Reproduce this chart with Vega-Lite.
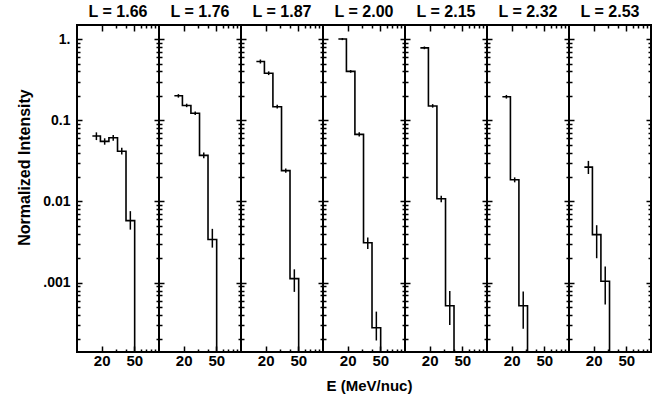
{
  "$schema": "https://vega.github.io/schema/vega-lite/v6.json",
  "padding": {"left": 15, "top": 3, "right": 5, "bottom": 5},
  "background": "white",
  "spacing": 0,
  "bounds": "flush",
  "data": {"values": [
    {"L": "1.66", "lo": 15.4, "hi": 19.3, "E": 17.24, "v": 0.064, "elo": 0.057, "ehi": 0.071},
    {"L": "1.66", "lo": 19.3, "hi": 24.5, "E": 21.75, "v": 0.055, "elo": 0.05, "ehi": 0.06},
    {"L": "1.66", "lo": 24.5, "hi": 31.2, "E": 27.65, "v": 0.061, "elo": 0.056, "ehi": 0.066},
    {"L": "1.66", "lo": 31.2, "hi": 39.6, "E": 35.15, "v": 0.0415, "elo": 0.038, "ehi": 0.046},
    {"L": "1.66", "lo": 39.6, "hi": 50.5, "E": 44.72, "v": 0.0058, "elo": 0.0045, "ehi": 0.0076},
    {"L": "1.66", "lo": 50.5, "hi": 64, "v": 0.000001},
    {"L": "1.76", "lo": 15.4, "hi": 19.3, "E": 17.24, "v": 0.2, "elo": 0.19, "ehi": 0.21},
    {"L": "1.76", "lo": 19.3, "hi": 24.5, "E": 21.75, "v": 0.152, "elo": 0.145, "ehi": 0.16},
    {"L": "1.76", "lo": 24.5, "hi": 31.2, "E": 27.65, "v": 0.122, "elo": 0.116, "ehi": 0.128},
    {"L": "1.76", "lo": 31.2, "hi": 39.6, "E": 35.15, "v": 0.037, "elo": 0.034, "ehi": 0.04},
    {"L": "1.76", "lo": 39.6, "hi": 50.5, "E": 44.72, "v": 0.0034, "elo": 0.0027, "ehi": 0.0046},
    {"L": "1.76", "lo": 50.5, "hi": 64, "v": 0.000001},
    {"L": "1.87", "lo": 15.4, "hi": 19.3, "E": 17.24, "v": 0.53, "elo": 0.5, "ehi": 0.56},
    {"L": "1.87", "lo": 19.3, "hi": 24.5, "E": 21.75, "v": 0.38, "elo": 0.36, "ehi": 0.4},
    {"L": "1.87", "lo": 24.5, "hi": 31.2, "E": 27.65, "v": 0.147, "elo": 0.14, "ehi": 0.155},
    {"L": "1.87", "lo": 31.2, "hi": 39.6, "E": 35.15, "v": 0.024, "elo": 0.0225, "ehi": 0.0255},
    {"L": "1.87", "lo": 39.6, "hi": 50.5, "E": 44.72, "v": 0.00112, "elo": 0.00077, "ehi": 0.00146},
    {"L": "1.87", "lo": 50.5, "hi": 64, "v": 0.000001},
    {"L": "2.00", "lo": 15.4, "hi": 19.3, "E": 17.24, "v": 1.0, "elo": 0.97, "ehi": 1.03},
    {"L": "2.00", "lo": 19.3, "hi": 24.5, "E": 21.75, "v": 0.4, "elo": 0.385, "ehi": 0.415},
    {"L": "2.00", "lo": 24.5, "hi": 31.2, "E": 27.65, "v": 0.067, "elo": 0.063, "ehi": 0.071},
    {"L": "2.00", "lo": 31.2, "hi": 39.6, "E": 35.15, "v": 0.0031, "elo": 0.0026, "ehi": 0.0036},
    {"L": "2.00", "lo": 39.6, "hi": 50.5, "E": 44.72, "v": 0.000278, "elo": 0.000194, "ehi": 0.00044},
    {"L": "2.00", "lo": 50.5, "hi": 64, "v": 0.000001},
    {"L": "2.15", "lo": 15.4, "hi": 19.3, "E": 17.24, "v": 0.78, "elo": 0.75, "ehi": 0.81},
    {"L": "2.15", "lo": 19.3, "hi": 24.5, "E": 21.75, "v": 0.15, "elo": 0.143, "ehi": 0.158},
    {"L": "2.15", "lo": 24.5, "hi": 31.2, "E": 27.65, "v": 0.0108, "elo": 0.0098, "ehi": 0.0118},
    {"L": "2.15", "lo": 31.2, "hi": 39.6, "E": 35.15, "v": 0.00052, "elo": 0.0003, "ehi": 0.00079},
    {"L": "2.15", "lo": 39.6, "hi": 50.5, "v": 0.000001},
    {"L": "2.32", "lo": 15.4, "hi": 19.3, "E": 17.24, "v": 0.195, "elo": 0.185, "ehi": 0.205},
    {"L": "2.32", "lo": 19.3, "hi": 24.5, "E": 21.75, "v": 0.0185, "elo": 0.0172, "ehi": 0.0198},
    {"L": "2.32", "lo": 24.5, "hi": 31.2, "E": 27.65, "v": 0.00052, "elo": 0.00027, "ehi": 0.00078},
    {"L": "2.32", "lo": 31.2, "hi": 39.6, "v": 0.000001},
    {"L": "2.53", "lo": 15.4, "hi": 19.3, "E": 17.24, "v": 0.0265, "elo": 0.0218, "ehi": 0.0316},
    {"L": "2.53", "lo": 19.3, "hi": 24.5, "E": 21.75, "v": 0.0039, "elo": 0.002, "ehi": 0.0051},
    {"L": "2.53", "lo": 24.5, "hi": 31.2, "E": 27.65, "v": 0.00104, "elo": 0.00054, "ehi": 0.00158},
    {"L": "2.53", "lo": 31.2, "hi": 39.6, "v": 0.000001}
  ]},
  "hconcat": [
    {
      "width": 82, "height": 327,
      "title": {"text": "L = 1.66"},
      "transform": [{"filter": "datum.L == '1.66'"}],
      "layer": [
        {
          "transform": [{"fold": ["lo", "hi"], "as": ["edge", "Eedge"]}],
          "mark": {"type": "line", "color": "black", "strokeWidth": 1.6, "clip": true},
          "encoding": {
            "x": {"field": "Eedge", "type": "quantitative", "scale": {"type": "log", "domain": [10, 100]},
                  "axis": {"orient": "bottom", "title": null, "values": [20, 30, 40, 50, 60, 70, 80, 90], "tickSize": {"condition": {"test": "datum.value == 20 || datum.value == 50", "value": -6}, "value": -3}, "labelExpr": "datum.value == 20 ? '20' : datum.value == 50 ? '50' : ''", "labelPadding": 7}},
            "y": {"field": "v", "type": "quantitative", "scale": {"type": "log", "domain": [0.00014, 1.49]},
                  "axis": {"orient": "left", "title": "Normalized Intensity", "titlePadding": 10, "titleY": 142, "values": [0.0002, 0.0003, 0.0004, 0.0005, 0.0006, 0.0007, 0.0008, 0.0009, 0.001, 0.002, 0.003, 0.004, 0.005, 0.006, 0.007, 0.008, 0.009, 0.01, 0.02, 0.03, 0.04, 0.05, 0.06, 0.07, 0.08, 0.09, 0.1, 0.2, 0.3, 0.4, 0.5, 0.6, 0.7, 0.8, 0.9, 1], "tickSize": {"condition": {"test": "datum.value == 1 || datum.value == 0.1 || datum.value == 0.01 || datum.value == 0.001", "value": -5}, "value": -3}, "labelExpr": "datum.value == 1 ? '1.' : datum.value == 0.1 ? '0.1' : datum.value == 0.01 ? '0.01' : datum.value == 0.001 ? '.001' : ''", "labelPadding": 12}},
            "order": [{"field": "Eedge", "type": "quantitative"}, {"field": "edge", "type": "nominal"}]
          }
        },
        {
          "mark": {"type": "rule", "color": "black", "strokeWidth": 1.5},
          "encoding": {
            "x": {"field": "E", "type": "quantitative", "scale": {"type": "log", "domain": [10, 100]},
                  "axis": {"orient": "top", "title": null, "labels": false, "values": [20, 30, 40, 50, 60, 70, 80, 90], "tickSize": {"condition": {"test": "datum.value == 20 || datum.value == 50", "value": -6}, "value": -3}}},
            "y": {"field": "elo", "type": "quantitative", "scale": {"type": "log", "domain": [0.00014, 1.49]},
                  "axis": {"orient": "right", "title": null, "labels": false, "values": [0.0002, 0.0003, 0.0004, 0.0005, 0.0006, 0.0007, 0.0008, 0.0009, 0.001, 0.002, 0.003, 0.004, 0.005, 0.006, 0.007, 0.008, 0.009, 0.01, 0.02, 0.03, 0.04, 0.05, 0.06, 0.07, 0.08, 0.09, 0.1, 0.2, 0.3, 0.4, 0.5, 0.6, 0.7, 0.8, 0.9, 1], "tickSize": {"condition": {"test": "datum.value == 1 || datum.value == 0.1 || datum.value == 0.01 || datum.value == 0.001", "value": -5}, "value": -3}}},
            "y2": {"field": "ehi"}
          }
        }
      ],
      "resolve": {"axis": {"x": "independent", "y": "independent"}}
    },
    {
      "width": 82, "height": 327,
      "title": {"text": "L = 1.76"},
      "transform": [{"filter": "datum.L == '1.76'"}],
      "layer": [
        {
          "transform": [{"fold": ["lo", "hi"], "as": ["edge", "Eedge"]}],
          "mark": {"type": "line", "color": "black", "strokeWidth": 1.6, "clip": true},
          "encoding": {
            "x": {"field": "Eedge", "type": "quantitative", "scale": {"type": "log", "domain": [10, 100]},
                  "axis": {"orient": "bottom", "title": null, "values": [20, 30, 40, 50, 60, 70, 80, 90], "tickSize": {"condition": {"test": "datum.value == 20 || datum.value == 50", "value": -6}, "value": -3}, "labelExpr": "datum.value == 20 ? '20' : datum.value == 50 ? '50' : ''", "labelPadding": 7}},
            "y": {"field": "v", "type": "quantitative", "scale": {"type": "log", "domain": [0.00014, 1.49]},
                  "axis": {"orient": "left", "title": null, "labels": false, "values": [0.0002, 0.0003, 0.0004, 0.0005, 0.0006, 0.0007, 0.0008, 0.0009, 0.001, 0.002, 0.003, 0.004, 0.005, 0.006, 0.007, 0.008, 0.009, 0.01, 0.02, 0.03, 0.04, 0.05, 0.06, 0.07, 0.08, 0.09, 0.1, 0.2, 0.3, 0.4, 0.5, 0.6, 0.7, 0.8, 0.9, 1], "tickSize": {"condition": {"test": "datum.value == 1 || datum.value == 0.1 || datum.value == 0.01 || datum.value == 0.001", "value": -5}, "value": -3}}},
            "order": [{"field": "Eedge", "type": "quantitative"}, {"field": "edge", "type": "nominal"}]
          }
        },
        {
          "mark": {"type": "rule", "color": "black", "strokeWidth": 1.5},
          "encoding": {
            "x": {"field": "E", "type": "quantitative", "scale": {"type": "log", "domain": [10, 100]},
                  "axis": {"orient": "top", "title": null, "labels": false, "values": [20, 30, 40, 50, 60, 70, 80, 90], "tickSize": {"condition": {"test": "datum.value == 20 || datum.value == 50", "value": -6}, "value": -3}}},
            "y": {"field": "elo", "type": "quantitative", "scale": {"type": "log", "domain": [0.00014, 1.49]},
                  "axis": {"orient": "right", "title": null, "labels": false, "values": [0.0002, 0.0003, 0.0004, 0.0005, 0.0006, 0.0007, 0.0008, 0.0009, 0.001, 0.002, 0.003, 0.004, 0.005, 0.006, 0.007, 0.008, 0.009, 0.01, 0.02, 0.03, 0.04, 0.05, 0.06, 0.07, 0.08, 0.09, 0.1, 0.2, 0.3, 0.4, 0.5, 0.6, 0.7, 0.8, 0.9, 1], "tickSize": {"condition": {"test": "datum.value == 1 || datum.value == 0.1 || datum.value == 0.01 || datum.value == 0.001", "value": -5}, "value": -3}}},
            "y2": {"field": "ehi"}
          }
        }
      ],
      "resolve": {"axis": {"x": "independent", "y": "independent"}}
    },
    {
      "width": 82, "height": 327,
      "title": {"text": "L = 1.87"},
      "transform": [{"filter": "datum.L == '1.87'"}],
      "layer": [
        {
          "transform": [{"fold": ["lo", "hi"], "as": ["edge", "Eedge"]}],
          "mark": {"type": "line", "color": "black", "strokeWidth": 1.6, "clip": true},
          "encoding": {
            "x": {"field": "Eedge", "type": "quantitative", "scale": {"type": "log", "domain": [10, 100]},
                  "axis": {"orient": "bottom", "title": null, "values": [20, 30, 40, 50, 60, 70, 80, 90], "tickSize": {"condition": {"test": "datum.value == 20 || datum.value == 50", "value": -6}, "value": -3}, "labelExpr": "datum.value == 20 ? '20' : datum.value == 50 ? '50' : ''", "labelPadding": 7}},
            "y": {"field": "v", "type": "quantitative", "scale": {"type": "log", "domain": [0.00014, 1.49]},
                  "axis": {"orient": "left", "title": null, "labels": false, "values": [0.0002, 0.0003, 0.0004, 0.0005, 0.0006, 0.0007, 0.0008, 0.0009, 0.001, 0.002, 0.003, 0.004, 0.005, 0.006, 0.007, 0.008, 0.009, 0.01, 0.02, 0.03, 0.04, 0.05, 0.06, 0.07, 0.08, 0.09, 0.1, 0.2, 0.3, 0.4, 0.5, 0.6, 0.7, 0.8, 0.9, 1], "tickSize": {"condition": {"test": "datum.value == 1 || datum.value == 0.1 || datum.value == 0.01 || datum.value == 0.001", "value": -5}, "value": -3}}},
            "order": [{"field": "Eedge", "type": "quantitative"}, {"field": "edge", "type": "nominal"}]
          }
        },
        {
          "mark": {"type": "rule", "color": "black", "strokeWidth": 1.5},
          "encoding": {
            "x": {"field": "E", "type": "quantitative", "scale": {"type": "log", "domain": [10, 100]},
                  "axis": {"orient": "top", "title": null, "labels": false, "values": [20, 30, 40, 50, 60, 70, 80, 90], "tickSize": {"condition": {"test": "datum.value == 20 || datum.value == 50", "value": -6}, "value": -3}}},
            "y": {"field": "elo", "type": "quantitative", "scale": {"type": "log", "domain": [0.00014, 1.49]},
                  "axis": {"orient": "right", "title": null, "labels": false, "values": [0.0002, 0.0003, 0.0004, 0.0005, 0.0006, 0.0007, 0.0008, 0.0009, 0.001, 0.002, 0.003, 0.004, 0.005, 0.006, 0.007, 0.008, 0.009, 0.01, 0.02, 0.03, 0.04, 0.05, 0.06, 0.07, 0.08, 0.09, 0.1, 0.2, 0.3, 0.4, 0.5, 0.6, 0.7, 0.8, 0.9, 1], "tickSize": {"condition": {"test": "datum.value == 1 || datum.value == 0.1 || datum.value == 0.01 || datum.value == 0.001", "value": -5}, "value": -3}}},
            "y2": {"field": "ehi"}
          }
        }
      ],
      "resolve": {"axis": {"x": "independent", "y": "independent"}}
    },
    {
      "width": 82, "height": 327,
      "title": {"text": "L = 2.00"},
      "transform": [{"filter": "datum.L == '2.00'"}],
      "layer": [
        {
          "transform": [{"fold": ["lo", "hi"], "as": ["edge", "Eedge"]}],
          "mark": {"type": "line", "color": "black", "strokeWidth": 1.6, "clip": true},
          "encoding": {
            "x": {"field": "Eedge", "type": "quantitative", "scale": {"type": "log", "domain": [10, 100]},
                  "axis": {"orient": "bottom", "title": "E (MeV/nuc)", "titlePadding": 7, "titleX": 46, "values": [20, 30, 40, 50, 60, 70, 80, 90], "tickSize": {"condition": {"test": "datum.value == 20 || datum.value == 50", "value": -6}, "value": -3}, "labelExpr": "datum.value == 20 ? '20' : datum.value == 50 ? '50' : ''", "labelPadding": 7}},
            "y": {"field": "v", "type": "quantitative", "scale": {"type": "log", "domain": [0.00014, 1.49]},
                  "axis": {"orient": "left", "title": null, "labels": false, "values": [0.0002, 0.0003, 0.0004, 0.0005, 0.0006, 0.0007, 0.0008, 0.0009, 0.001, 0.002, 0.003, 0.004, 0.005, 0.006, 0.007, 0.008, 0.009, 0.01, 0.02, 0.03, 0.04, 0.05, 0.06, 0.07, 0.08, 0.09, 0.1, 0.2, 0.3, 0.4, 0.5, 0.6, 0.7, 0.8, 0.9, 1], "tickSize": {"condition": {"test": "datum.value == 1 || datum.value == 0.1 || datum.value == 0.01 || datum.value == 0.001", "value": -5}, "value": -3}}},
            "order": [{"field": "Eedge", "type": "quantitative"}, {"field": "edge", "type": "nominal"}]
          }
        },
        {
          "mark": {"type": "rule", "color": "black", "strokeWidth": 1.5},
          "encoding": {
            "x": {"field": "E", "type": "quantitative", "scale": {"type": "log", "domain": [10, 100]},
                  "axis": {"orient": "top", "title": null, "labels": false, "values": [20, 30, 40, 50, 60, 70, 80, 90], "tickSize": {"condition": {"test": "datum.value == 20 || datum.value == 50", "value": -6}, "value": -3}}},
            "y": {"field": "elo", "type": "quantitative", "scale": {"type": "log", "domain": [0.00014, 1.49]},
                  "axis": {"orient": "right", "title": null, "labels": false, "values": [0.0002, 0.0003, 0.0004, 0.0005, 0.0006, 0.0007, 0.0008, 0.0009, 0.001, 0.002, 0.003, 0.004, 0.005, 0.006, 0.007, 0.008, 0.009, 0.01, 0.02, 0.03, 0.04, 0.05, 0.06, 0.07, 0.08, 0.09, 0.1, 0.2, 0.3, 0.4, 0.5, 0.6, 0.7, 0.8, 0.9, 1], "tickSize": {"condition": {"test": "datum.value == 1 || datum.value == 0.1 || datum.value == 0.01 || datum.value == 0.001", "value": -5}, "value": -3}}},
            "y2": {"field": "ehi"}
          }
        }
      ],
      "resolve": {"axis": {"x": "independent", "y": "independent"}}
    },
    {
      "width": 82, "height": 327,
      "title": {"text": "L = 2.15"},
      "transform": [{"filter": "datum.L == '2.15'"}],
      "layer": [
        {
          "transform": [{"fold": ["lo", "hi"], "as": ["edge", "Eedge"]}],
          "mark": {"type": "line", "color": "black", "strokeWidth": 1.6, "clip": true},
          "encoding": {
            "x": {"field": "Eedge", "type": "quantitative", "scale": {"type": "log", "domain": [10, 100]},
                  "axis": {"orient": "bottom", "title": null, "values": [20, 30, 40, 50, 60, 70, 80, 90], "tickSize": {"condition": {"test": "datum.value == 20 || datum.value == 50", "value": -6}, "value": -3}, "labelExpr": "datum.value == 20 ? '20' : datum.value == 50 ? '50' : ''", "labelPadding": 7}},
            "y": {"field": "v", "type": "quantitative", "scale": {"type": "log", "domain": [0.00014, 1.49]},
                  "axis": {"orient": "left", "title": null, "labels": false, "values": [0.0002, 0.0003, 0.0004, 0.0005, 0.0006, 0.0007, 0.0008, 0.0009, 0.001, 0.002, 0.003, 0.004, 0.005, 0.006, 0.007, 0.008, 0.009, 0.01, 0.02, 0.03, 0.04, 0.05, 0.06, 0.07, 0.08, 0.09, 0.1, 0.2, 0.3, 0.4, 0.5, 0.6, 0.7, 0.8, 0.9, 1], "tickSize": {"condition": {"test": "datum.value == 1 || datum.value == 0.1 || datum.value == 0.01 || datum.value == 0.001", "value": -5}, "value": -3}}},
            "order": [{"field": "Eedge", "type": "quantitative"}, {"field": "edge", "type": "nominal"}]
          }
        },
        {
          "mark": {"type": "rule", "color": "black", "strokeWidth": 1.5},
          "encoding": {
            "x": {"field": "E", "type": "quantitative", "scale": {"type": "log", "domain": [10, 100]},
                  "axis": {"orient": "top", "title": null, "labels": false, "values": [20, 30, 40, 50, 60, 70, 80, 90], "tickSize": {"condition": {"test": "datum.value == 20 || datum.value == 50", "value": -6}, "value": -3}}},
            "y": {"field": "elo", "type": "quantitative", "scale": {"type": "log", "domain": [0.00014, 1.49]},
                  "axis": {"orient": "right", "title": null, "labels": false, "values": [0.0002, 0.0003, 0.0004, 0.0005, 0.0006, 0.0007, 0.0008, 0.0009, 0.001, 0.002, 0.003, 0.004, 0.005, 0.006, 0.007, 0.008, 0.009, 0.01, 0.02, 0.03, 0.04, 0.05, 0.06, 0.07, 0.08, 0.09, 0.1, 0.2, 0.3, 0.4, 0.5, 0.6, 0.7, 0.8, 0.9, 1], "tickSize": {"condition": {"test": "datum.value == 1 || datum.value == 0.1 || datum.value == 0.01 || datum.value == 0.001", "value": -5}, "value": -3}}},
            "y2": {"field": "ehi"}
          }
        }
      ],
      "resolve": {"axis": {"x": "independent", "y": "independent"}}
    },
    {
      "width": 82, "height": 327,
      "title": {"text": "L = 2.32"},
      "transform": [{"filter": "datum.L == '2.32'"}],
      "layer": [
        {
          "transform": [{"fold": ["lo", "hi"], "as": ["edge", "Eedge"]}],
          "mark": {"type": "line", "color": "black", "strokeWidth": 1.6, "clip": true},
          "encoding": {
            "x": {"field": "Eedge", "type": "quantitative", "scale": {"type": "log", "domain": [10, 100]},
                  "axis": {"orient": "bottom", "title": null, "values": [20, 30, 40, 50, 60, 70, 80, 90], "tickSize": {"condition": {"test": "datum.value == 20 || datum.value == 50", "value": -6}, "value": -3}, "labelExpr": "datum.value == 20 ? '20' : datum.value == 50 ? '50' : ''", "labelPadding": 7}},
            "y": {"field": "v", "type": "quantitative", "scale": {"type": "log", "domain": [0.00014, 1.49]},
                  "axis": {"orient": "left", "title": null, "labels": false, "values": [0.0002, 0.0003, 0.0004, 0.0005, 0.0006, 0.0007, 0.0008, 0.0009, 0.001, 0.002, 0.003, 0.004, 0.005, 0.006, 0.007, 0.008, 0.009, 0.01, 0.02, 0.03, 0.04, 0.05, 0.06, 0.07, 0.08, 0.09, 0.1, 0.2, 0.3, 0.4, 0.5, 0.6, 0.7, 0.8, 0.9, 1], "tickSize": {"condition": {"test": "datum.value == 1 || datum.value == 0.1 || datum.value == 0.01 || datum.value == 0.001", "value": -5}, "value": -3}}},
            "order": [{"field": "Eedge", "type": "quantitative"}, {"field": "edge", "type": "nominal"}]
          }
        },
        {
          "mark": {"type": "rule", "color": "black", "strokeWidth": 1.5},
          "encoding": {
            "x": {"field": "E", "type": "quantitative", "scale": {"type": "log", "domain": [10, 100]},
                  "axis": {"orient": "top", "title": null, "labels": false, "values": [20, 30, 40, 50, 60, 70, 80, 90], "tickSize": {"condition": {"test": "datum.value == 20 || datum.value == 50", "value": -6}, "value": -3}}},
            "y": {"field": "elo", "type": "quantitative", "scale": {"type": "log", "domain": [0.00014, 1.49]},
                  "axis": {"orient": "right", "title": null, "labels": false, "values": [0.0002, 0.0003, 0.0004, 0.0005, 0.0006, 0.0007, 0.0008, 0.0009, 0.001, 0.002, 0.003, 0.004, 0.005, 0.006, 0.007, 0.008, 0.009, 0.01, 0.02, 0.03, 0.04, 0.05, 0.06, 0.07, 0.08, 0.09, 0.1, 0.2, 0.3, 0.4, 0.5, 0.6, 0.7, 0.8, 0.9, 1], "tickSize": {"condition": {"test": "datum.value == 1 || datum.value == 0.1 || datum.value == 0.01 || datum.value == 0.001", "value": -5}, "value": -3}}},
            "y2": {"field": "ehi"}
          }
        }
      ],
      "resolve": {"axis": {"x": "independent", "y": "independent"}}
    },
    {
      "width": 82, "height": 327,
      "title": {"text": "L = 2.53"},
      "transform": [{"filter": "datum.L == '2.53'"}],
      "layer": [
        {
          "transform": [{"fold": ["lo", "hi"], "as": ["edge", "Eedge"]}],
          "mark": {"type": "line", "color": "black", "strokeWidth": 1.6, "clip": true},
          "encoding": {
            "x": {"field": "Eedge", "type": "quantitative", "scale": {"type": "log", "domain": [10, 100]},
                  "axis": {"orient": "bottom", "title": null, "values": [20, 30, 40, 50, 60, 70, 80, 90], "tickSize": {"condition": {"test": "datum.value == 20 || datum.value == 50", "value": -6}, "value": -3}, "labelExpr": "datum.value == 20 ? '20' : datum.value == 50 ? '50' : ''", "labelPadding": 7}},
            "y": {"field": "v", "type": "quantitative", "scale": {"type": "log", "domain": [0.00014, 1.49]},
                  "axis": {"orient": "left", "title": null, "labels": false, "values": [0.0002, 0.0003, 0.0004, 0.0005, 0.0006, 0.0007, 0.0008, 0.0009, 0.001, 0.002, 0.003, 0.004, 0.005, 0.006, 0.007, 0.008, 0.009, 0.01, 0.02, 0.03, 0.04, 0.05, 0.06, 0.07, 0.08, 0.09, 0.1, 0.2, 0.3, 0.4, 0.5, 0.6, 0.7, 0.8, 0.9, 1], "tickSize": {"condition": {"test": "datum.value == 1 || datum.value == 0.1 || datum.value == 0.01 || datum.value == 0.001", "value": -5}, "value": -3}}},
            "order": [{"field": "Eedge", "type": "quantitative"}, {"field": "edge", "type": "nominal"}]
          }
        },
        {
          "mark": {"type": "rule", "color": "black", "strokeWidth": 1.5},
          "encoding": {
            "x": {"field": "E", "type": "quantitative", "scale": {"type": "log", "domain": [10, 100]},
                  "axis": {"orient": "top", "title": null, "labels": false, "values": [20, 30, 40, 50, 60, 70, 80, 90], "tickSize": {"condition": {"test": "datum.value == 20 || datum.value == 50", "value": -6}, "value": -3}}},
            "y": {"field": "elo", "type": "quantitative", "scale": {"type": "log", "domain": [0.00014, 1.49]},
                  "axis": {"orient": "right", "title": null, "labels": false, "values": [0.0002, 0.0003, 0.0004, 0.0005, 0.0006, 0.0007, 0.0008, 0.0009, 0.001, 0.002, 0.003, 0.004, 0.005, 0.006, 0.007, 0.008, 0.009, 0.01, 0.02, 0.03, 0.04, 0.05, 0.06, 0.07, 0.08, 0.09, 0.1, 0.2, 0.3, 0.4, 0.5, 0.6, 0.7, 0.8, 0.9, 1], "tickSize": {"condition": {"test": "datum.value == 1 || datum.value == 0.1 || datum.value == 0.01 || datum.value == 0.001", "value": -5}, "value": -3}}},
            "y2": {"field": "ehi"}
          }
        }
      ],
      "resolve": {"axis": {"x": "independent", "y": "independent"}}
    }
  ],
  "config": {
    "view": {"stroke": "black", "strokeWidth": 2},
    "axis": {"domain": false, "grid": false, "tickColor": "black", "tickWidth": 1.5, "labelFont": "Liberation Sans", "labelFontSize": 14, "labelFontWeight": "bold", "labelColor": "black", "titleFont": "Liberation Sans", "titleFontSize": 16, "titleFontWeight": "bold", "titleColor": "black", "labelOverlap": false, "labelBound": false, "labelFlush": false},
    "axisBottom": {"labelFontSize": 15, "titleFontSize": 15},
    "title": {"font": "Liberation Sans", "fontSize": 16, "fontWeight": "bold", "color": "black", "offset": 4, "anchor": "middle"}
  }
}
